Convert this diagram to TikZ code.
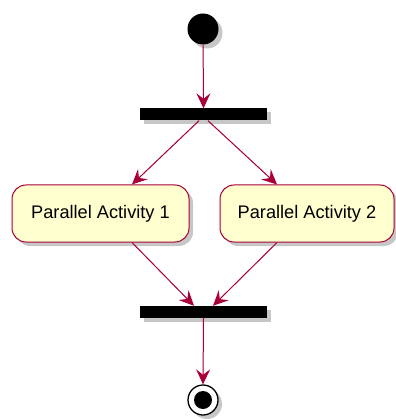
\documentclass[tikz,border=0pt]{standalone}
\usepackage{fontspec}
\setmainfont{Liberation Sans}
\usepackage{xcolor}
\usetikzlibrary{arrows.meta,shadows}
\definecolor{umlred}{HTML}{A80036}
\definecolor{umlfill}{HTML}{FEFECE}

\begin{document}
\begin{tikzpicture}[x=1pt,y=-1pt,>={Stealth[length=15pt,width=14pt,inset=5.5pt]},
  umlshadow/.style={drop shadow={shadow xshift=4pt,shadow yshift=-4pt,opacity=0.22,fill=black}},
  flow/.style={->,draw=umlred,fill=umlred,line width=1pt},
  activity/.style={draw=umlred,fill=umlfill,line width=1pt,rounded corners=14pt,
    minimum height=57pt,inner sep=0pt,font=\fontsize{18.2}{22}\selectfont,umlshadow},
  syncbar/.style={fill=black,minimum width=127pt,minimum height=12pt,inner sep=0pt,umlshadow}]
\useasboundingbox (0,0) rectangle (395,419);
% start and fork
\node[circle,fill=black,minimum size=31pt,inner sep=0pt,umlshadow] (start) at (203,29) {};
\node[syncbar] (fork) at (203.5,114.5) {};
% the two parallel activities
\node[activity,minimum width=177pt] (act1) at (100.5,213.5) {Parallel Activity 1};
\node[activity,minimum width=174pt] (act2) at (307,213.5) {Parallel Activity 2};
% join and end
\node[syncbar] (join) at (203.5,312) {};
\node[circle,draw=black,fill=white,line width=1.3pt,minimum size=30pt,inner sep=0pt,umlshadow] (stop) at (203,400) {};
\node[circle,fill=black,minimum size=18pt,inner sep=0pt] (stopdot) at (stop.center) {};
% connectors
\draw[flow] (start) -- (fork.north);
\draw[flow] ([xshift=-4.5pt]fork.south) -- ([xshift=31.5pt]act1.north);
\draw[flow] ([xshift=4.5pt]fork.south) -- ([xshift=-30pt]act2.north);
\draw[flow] ([xshift=31.5pt]act1.south) -- ([xshift=-9.5pt]join.north);
\draw[flow] ([xshift=-30pt]act2.south) -- ([xshift=9.5pt]join.north);
\draw[flow] (join.south) -- (stop.north);
\end{tikzpicture}
\end{document}
